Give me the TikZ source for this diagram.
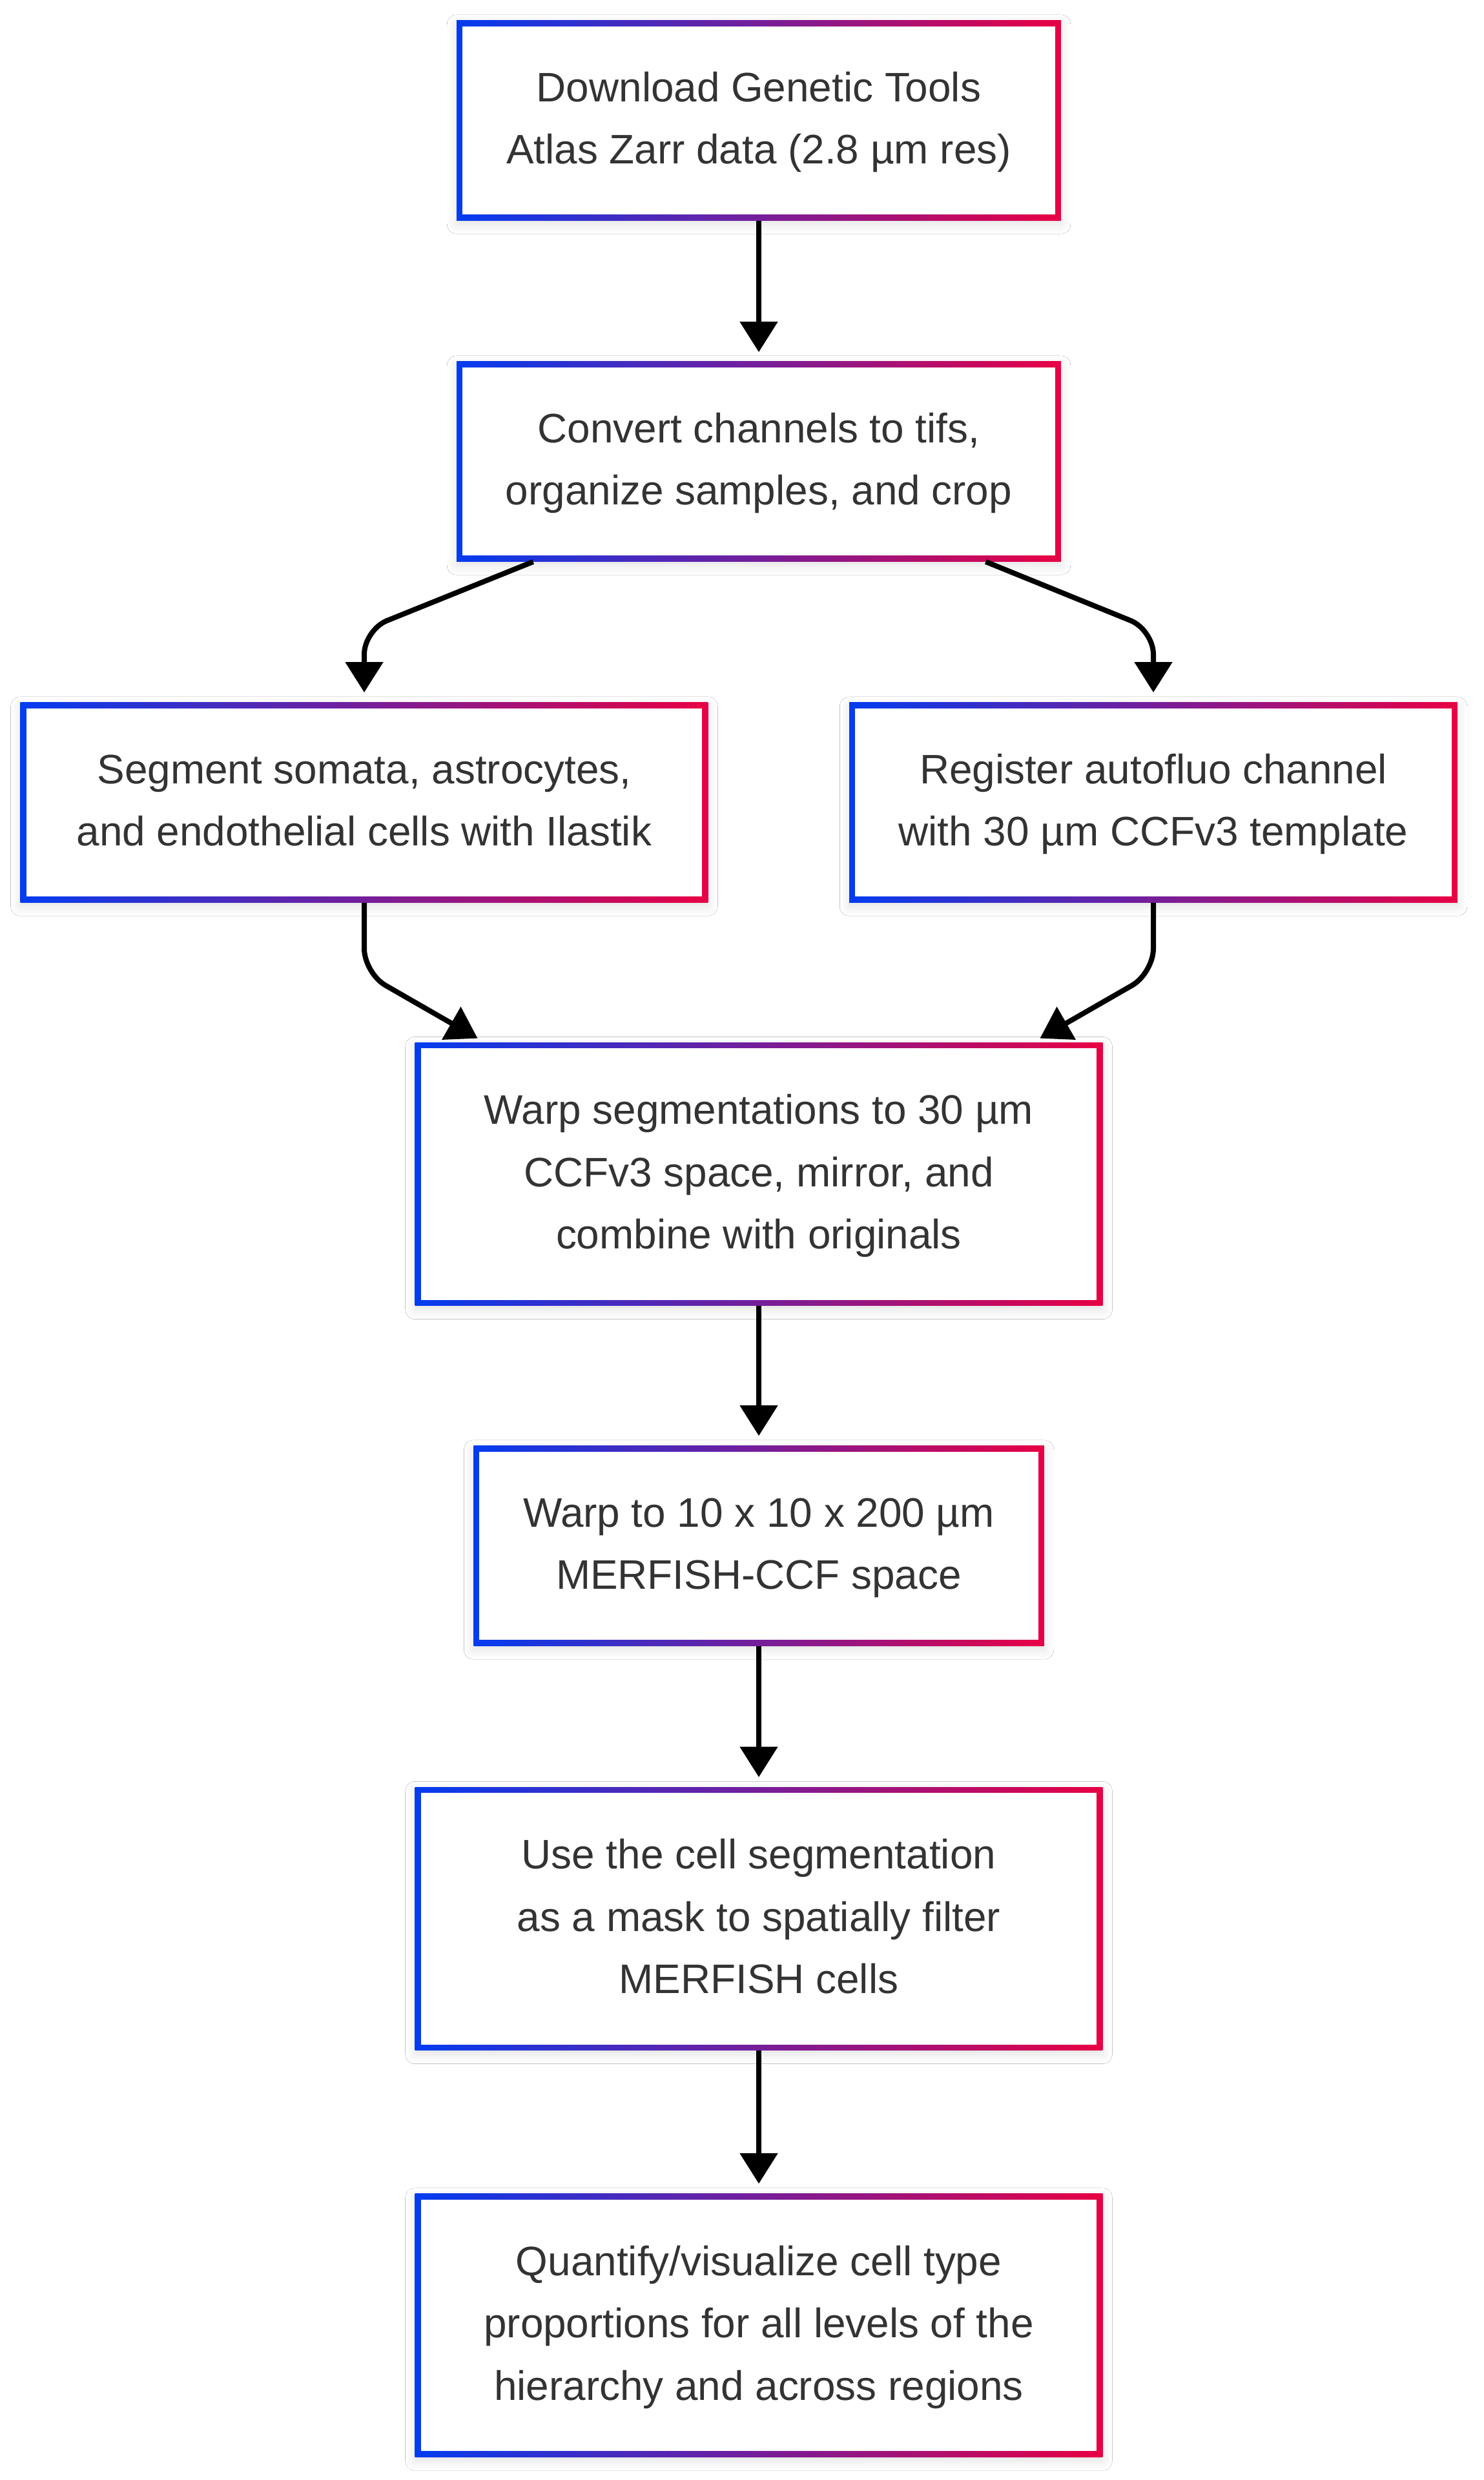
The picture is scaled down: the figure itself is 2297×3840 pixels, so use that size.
\documentclass[tikz,border=0pt]{standalone}
\usepackage{fontspec}
\setmainfont{Liberation Sans}
\usetikzlibrary{arrows.meta,calc,shadows.blur}
\definecolor{gblue}{RGB}{3,60,240}
\definecolor{gred}{RGB}{232,0,68}
\definecolor{txt}{RGB}{51,51,51}
\newcommand\boxlines[1]{\begin{tabular}{@{}c@{}}#1\end{tabular}}
\tikzset{
  flowbox/.style={rectangle, inner sep=0pt, align=center, text=txt,
    font=\fontsize{18.15pt}{27.4pt}\selectfont,
    blur shadow={shadow xshift=0cm, shadow yshift=-0.06cm, shadow blur radius=0.15cm, shadow opacity=12},
    path picture={
      \shade[left color=gblue, right color=gred]
        (path picture bounding box.south west) rectangle (path picture bounding box.north east);
      \fill[white]
        ([shift={(0.09cm,-0.09cm)}]path picture bounding box.north west) rectangle
        ([shift={(-0.09cm,0.09cm)}]path picture bounding box.south east);
    }},
  twoline/.style={flowbox, minimum height=3.09cm},
  threeline/.style={flowbox, minimum height=4.07cm},
  arr/.style={draw=black, line width=0.08cm, -{Triangle[length=0.47cm, width=0.57cm]}},
}
\begin{document}
\begin{tikzpicture}[x=0.01cm, y=-0.01cm]
\fill[white] (0,0) rectangle (2297,3840);
\useasboundingbox (0,0) rectangle (2297,3840);

\node[twoline, minimum width=9.35cm] (B1) at (1175,186.5)
  {\boxlines{Download Genetic Tools\\Atlas Zarr data (2.8 µm res)}};
\node[twoline, minimum width=9.35cm] (B2) at (1175,714.5)
  {\boxlines{Convert channels to tifs,\\organize samples, and crop}};
\node[twoline, minimum width=10.64cm] (B3) at (564,1242.5)
  {\boxlines{Segment somata, astrocytes,\\and endothelial cells with Ilastik}};
\node[twoline, minimum width=9.41cm] (B4) at (1786,1242.5)
  {\boxlines{Register autofluo channel\\with 30 µm CCFv3 template}};
\node[threeline, minimum width=10.64cm] (B5) at (1175,1818)
  {\boxlines{Warp segmentations to 30 µm\\CCFv3 space, mirror, and\\combine with originals}};
\node[twoline, minimum width=8.83cm] (B6) at (1175,2393.5)
  {\boxlines{Warp to 10 x 10 x 200 µm\\MERFISH-CCF space}};
\node[threeline, minimum width=10.64cm] (B7) at (1175,2971)
  {\boxlines{Use the cell segmentation\\as a mask to spatially filter\\MERFISH cells}};
\node[threeline, minimum width=10.64cm] (B8) at (1175,3600.5)
  {\boxlines{Quantify/visualize cell type\\proportions for all levels of the\\hierarchy and across regions}};

\draw[arr, shorten >=0.14cm] (B1.south) -- (B2.north);
\draw[arr, shorten >=0.15cm, rounded corners=0.38cm]
  ($(B2.south west)+(119,0)$) -- ($(B3.north)+(0,-112)$) -- (B3.north);
\draw[arr, shorten >=0.15cm, rounded corners=0.38cm]
  ($(B2.south east)+(-117,0)$) -- ($(B4.north)+(0,-112)$) -- (B4.north);
\draw[arr, shorten >=0.12cm, rounded corners=0.38cm]
  (B3.south) -- ($(B3.south)+(0,109)$) -- ($(B5.north west)+(108,0)$);
\draw[arr, shorten >=0.12cm, rounded corners=0.38cm]
  (B4.south) -- ($(B4.south)+(0,109)$) -- ($(B5.north east)+(-108,0)$);
\draw[arr, shorten >=0.15cm] (B5.south) -- (B6.north);
\draw[arr, shorten >=0.15cm] (B6.south) -- (B7.north);
\draw[arr, shorten >=0.15cm] (B7.south) -- (B8.north);
\end{tikzpicture}
\end{document}
